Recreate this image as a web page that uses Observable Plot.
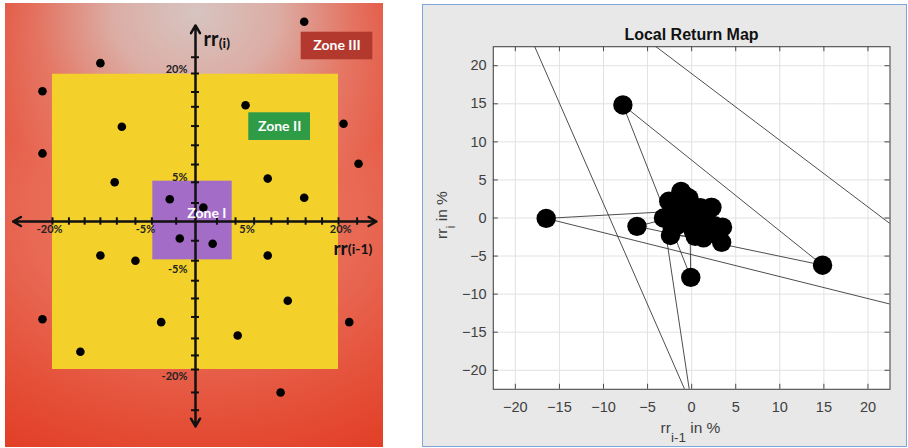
<!DOCTYPE html>
<html><head><meta charset="utf-8">
<script src="https://cdn.jsdelivr.net/npm/d3@7"></script>
<script src="https://cdn.jsdelivr.net/npm/@observablehq/plot@0.6"></script>
<style>
html,body{margin:0;padding:0;background:#fff;width:908px;height:448px;overflow:hidden;}
#left{position:absolute;left:5px;top:3px;width:378px;height:444px;}
#right{position:absolute;left:422px;top:4px;width:485px;height:443px;box-sizing:border-box;border:1.5px solid #7fa6d8;background:#e8e8e8;font-family:"Liberation Sans",Arial,sans-serif;}
#right svg{position:absolute;left:0;top:0;}
.lbl{position:absolute;white-space:nowrap;color:#404040;font-size:15.5px;line-height:15px;}
#title{position:absolute;left:268.5px;top:21.7px;transform:translateX(-50%);font-weight:bold;font-size:16px;line-height:16px;color:#111;white-space:nowrap;}
g[aria-label="zone-box"] rect{filter:drop-shadow(1.5px 2px 1.5px rgba(0,0,0,0.45));}
g[aria-label="points"] circle{filter:drop-shadow(0.5px 0.5px 0.8px rgba(0,0,0,0.5));}
g[aria-label="zone-text"] text{filter:drop-shadow(0.8px 0.8px 0.8px rgba(0,0,0,0.55));}
</style></head>
<body>
<div id="left"></div>
<div id="right">
  <div id="title">Local Return Map</div>
  <div class="lbl" id="xl" style="left:267.5px;top:414.5px;transform:translateX(-50%);">rr<span style="font-size:13.5px;position:relative;top:9px;">i-1</span> in %</div>
  <div class="lbl" id="yl" style="left:18.5px;top:209.5px;transform:translate(-50%,-50%) rotate(-90deg);">rr<span style="font-size:13.5px;position:relative;top:8px;">i</span> in %</div>
</div>
<script>
// ---------- Left schematic: zones of returns (in %) ----------
const pointX = [15.2,-13.3,-21.4,7.0,-10.3,20.7,-21.4,22.8,-11.3,10.1,15.2,-3.6,1.1,-2.2,2.4,-13.3,-8.4,10.1,12.9,-21.4,-4.8,5.9,21.5,-16.1,11.9];
const pointY = [27.0,21.4,17.6,15.7,12.8,13.2,9.2,7.8,5.3,5.8,3.2,3.0,1.9,-2.3,-3.0,-4.6,-5.3,-4.6,-10.7,-13.2,-13.6,-15.4,-13.6,-17.6,-23.1];
const zoneNames = ["Zone I","Zone II","Zone III"];
const zoneIIBounds = [-20, 20, -20, 19.9];     // x1, x2, y1, y2
const zoneIBounds = [-5.97, 5.13, -5.18, 5.45];
const hTicks = [-20.0,-17.7,-15.5,-13.3,-11.0,-8.4,-6.1,-2.7,3.0,5.6,8.2,10.6,12.9,15.4,17.7,20.0,22.6];
const vTicks = [22.2,20.0,17.5,15.5,12.9,10.3,7.7,5.3,2.5,-2.6,-5.3,-8.0,-10.4,-12.9,-15.8,-18.1,-20.0,-23.1,-25.5];
const xTickText = ["-20%","-5%","5%","20%"];
const xTickAt = [-20.4,-7.0,7.2,20.3];
const yTickText = ["20%","5%","-5%","-20%"];
const yTickAt = [20.5,6.0,-6.5,-21.0];
const axisEnds = [[-25.5,0],[25.3,0],[0,26.5],[0,-27.7]];

// ---------- Right: return series (in %) for the local return map ----------
const returns = [0.6,-0.8,2.3,1.4,-1.2,3.5,-1.2,3.4,-3.2,0.0,-24.6,40.5,-16.5,-0.05,1.0,1.35,-2.6,2.2,1.4,-0.2,-0.1,-7.8,14.85,-6.2,-1.1,0.4,-2.4,-2.3,0.9,-1.0,1.5,0.5,1.0,-0.6,2.8,-1.9,0.2,-1.5,1.8,-0.5,-0.5,0.3,0.8,0.2,-1.7,-1.0,2.5,-2.0,1.0,-1.8,0.6,0.7,-2.2,-1.4,1.2,0.4,1.1,-0.3,2.6,-1.0];
const mapTicks = [-20,-15,-10,-5,0,5,10,15,20];

// ----- left chart -----
const points = pointX.map((x, i) => ({x, y: pointY[i]}));
const zoneRects = [
  {x1: zoneIIBounds[0], x2: zoneIIBounds[1], y1: zoneIIBounds[2], y2: zoneIIBounds[3]},
  {x1: zoneIBounds[0], x2: zoneIBounds[1], y1: zoneIBounds[2], y2: zoneIBounds[3]}
];
const labelBoxes = [
  {name: zoneNames[1], x1: 7.45, x2: 16.08, y1: 10.95, y2: 14.69, fill: "#2e9b47"},
  {name: zoneNames[2], x1: 14.78, x2: 24.8, y1: 21.85, y2: 25.58, fill: "#b3392f"}
];
const bg = "radial-gradient(ellipse 235px 200px at 190px 10px, rgba(215,196,193,1) 0%, rgba(219,178,170,0.95) 35%, rgba(228,140,125,0.6) 68%, rgba(232,110,92,0) 100%), radial-gradient(ellipse 360px 270px at 190px 210px, #ea7864 0%, #e86a55 45%, #e5513a 75%, #e23f27 100%)";

const left = Plot.plot({
  width: 378, height: 444, margin: 0,
  x: {domain: [-26.57, 26.29], axis: null},
  y: {domain: [-30.54, 29.46], axis: null},
  style: {background: bg, fontFamily: "Lato, 'Open Sans', sans-serif", overflow: "visible"},
  marks: [
    Plot.rect([zoneRects[0]], {x1: "x1", x2: "x2", y1: "y1", y2: "y2", fill: "#f3d12a"}),
    Plot.rect([zoneRects[1]], {x1: "x1", x2: "x2", y1: "y1", y2: "y2", fill: "#a36dc7"}),
    Plot.arrow(axisEnds, {x1: 0, y1: 0, x2: d => d[0], y2: d => d[1], stroke: "#111", strokeWidth: 2.5, headLength: 5.4}),
    Plot.ruleX(hTicks, {x: d => d, y1: -0.5, y2: 0.5, stroke: "#111", strokeWidth: 2}),
    Plot.ruleY(vTicks, {y: d => d, x1: -0.56, x2: 0.56, stroke: "#111", strokeWidth: 2}),
    Plot.dot(points, {x: "x", y: "y", r: 4.3, fill: "#000", ariaLabel: "points"}),
    Plot.text(xTickText, {x: (d, i) => xTickAt[i], y: 0, dy: 8, text: d => d, fontSize: 11, fontWeight: "bold", fill: "#222"}),
    Plot.text(yTickText, {x: 0, y: (d, i) => yTickAt[i], dx: -8, textAnchor: "end", text: d => d, fontSize: 11, fontWeight: "bold", fill: "#222"}),
    Plot.rect(labelBoxes, {x1: "x1", x2: "x2", y1: "y1", y2: "y2", fill: "fill", ariaLabel: "zone-box"}),
    Plot.text(labelBoxes, {x: d => (d.x1 + d.x2) / 2, y: d => (d.y1 + d.y2) / 2, text: "name", fill: "white", fontSize: 14, fontWeight: "bold"}),
    Plot.text([zoneNames[0]], {x: 1.6, y: 1.12, text: d => d, fill: "white", fontSize: 14, fontWeight: "bold", ariaLabel: "zone-text"}),
    Plot.text(["rr"], {x: 1.12, y: 23.78, text: d => d, textAnchor: "start", lineAnchor: "bottom", fontSize: 20, fontWeight: "bold", fill: "#111"}),
    Plot.text(["(i)"], {x: 3.25, y: 23.4, text: d => d, textAnchor: "start", lineAnchor: "bottom", fontSize: 14, fontWeight: "bold", fill: "#111"}),
    Plot.text(["rr"], {x: 19.3, y: -4.55, text: d => d, textAnchor: "start", lineAnchor: "bottom", fontSize: 19, fontWeight: "bold", fill: "#111"}),
    Plot.text(["(i-1)"], {x: 21.3, y: -4.45, text: d => d, textAnchor: "start", lineAnchor: "bottom", fontSize: 14, fontWeight: "bold", fill: "#111"})
  ]
});
document.getElementById("left").appendChild(left);

// ----- right chart -----
const pairs = returns.slice(1).map((r, i) => ({prev: returns[i], curr: r}));
const TX = 0.57, TY = 0.66; // inward tick length in data units
const right = Plot.plot({
  width: 482, height: 440,
  marginLeft: 69.8, marginTop: 41.2, marginRight: 15.5, marginBottom: 56.2,
  x: {domain: [-22.5, 22.5]},
  y: {domain: [-22.5, 22.5]},
  style: {background: "transparent", fontFamily: "'Liberation Sans', Arial, sans-serif"},
  marks: [
    Plot.frame({fill: "white", stroke: null}),
    Plot.ruleX(mapTicks, {stroke: "#e2e2e2"}),
    Plot.ruleY(mapTicks, {stroke: "#e2e2e2"}),
    Plot.line(pairs, {x: "prev", y: "curr", stroke: "#3a3a3a", strokeWidth: 0.9, clip: true}),
    Plot.dot(pairs, {x: "prev", y: "curr", r: 9.7, fill: "#000", clip: true}),
    Plot.ruleX(mapTicks, {x: d => d, y1: -22.5, y2: -22.5 + TY, stroke: "#4a4a4a"}),
    Plot.ruleX(mapTicks, {x: d => d, y1: 22.5 - TY, y2: 22.5, stroke: "#4a4a4a"}),
    Plot.ruleY(mapTicks, {y: d => d, x1: -22.5, x2: -22.5 + TX, stroke: "#4a4a4a"}),
    Plot.ruleY(mapTicks, {y: d => d, x1: 22.5 - TX, x2: 22.5, stroke: "#4a4a4a"}),
    Plot.frame({stroke: "#4a4a4a", strokeWidth: 1.1}),
    Plot.axisX(mapTicks, {anchor: "bottom", tickSize: 0, tickPadding: 12, fontSize: 14.5, fill: "#404040", label: null}),
    Plot.axisY(mapTicks, {anchor: "left", tickSize: 0, tickPadding: 6.6, fontSize: 14.5, fill: "#404040", label: null})
  ]
});
document.getElementById("right").appendChild(right);
</script>
</body></html>
